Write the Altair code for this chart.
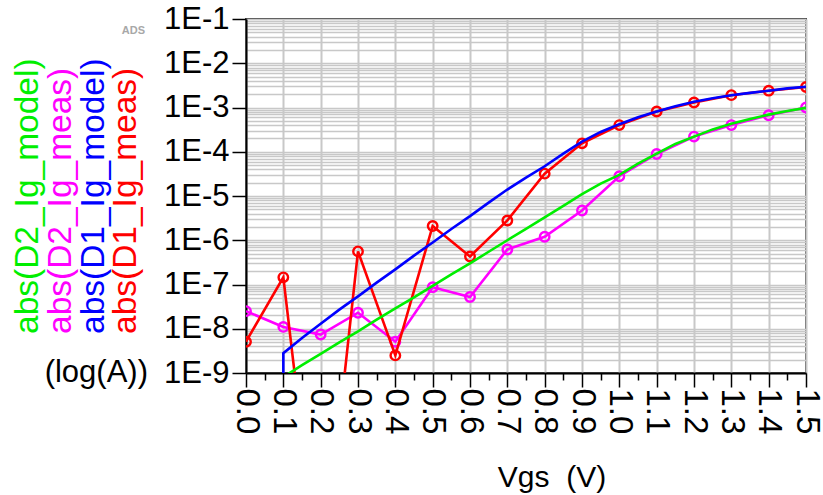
import altair as alt
import pandas as pd

# ---------------- data ----------------
vgs_meas = [0.0, 0.1, 0.2, 0.3, 0.4, 0.5, 0.6, 0.7, 0.8, 0.9, 1.0, 1.1, 1.2, 1.3, 1.4, 1.5]
d1_ig_meas = [5.1e-9, 1.45e-7, 1.0e-14, 5.6e-7, 2.5e-9, 2.1e-6, 4.3e-7, 2.8e-6,
              3.2e-5, 1.55e-4, 4.0e-4, 8.1e-4, 1.3e-3, 1.9e-3, 2.4e-3, 2.9e-3]
d2_ig_meas = [2.5e-8, 1.1e-8, 7.4e-9, 2.3e-8, 5.1e-9, 8.7e-8, 5.2e-8, 6.2e-7,
              1.2e-6, 4.7e-6, 2.8e-5, 8.9e-5, 2.2e-4, 4.0e-4, 6.7e-4, 1.0e-3]

vgs_d1_model = [0.1, 0.1, 0.15, 0.2, 0.25, 0.3, 0.35, 0.4, 0.45, 0.5, 0.55, 0.6, 0.65, 0.7,
                0.75, 0.8, 0.85, 0.9, 0.95, 1.0, 1.05, 1.1, 1.15, 1.2, 1.25, 1.3, 1.35,
                1.4, 1.45, 1.5]
d1_ig_model = [1.0e-12, 2.8e-9, 6.2e-9, 1.3e-8, 2.7e-8, 5.4e-8, 1.1e-7, 2.2e-7, 4.5e-7,
               8.9e-7, 1.8e-6, 3.5e-6, 7.1e-6, 1.4e-5, 2.6e-5, 4.7e-5, 9.1e-5, 1.7e-4,
               2.8e-4, 4.2e-4, 6.0e-4, 8.1e-4, 1.07e-3, 1.35e-3, 1.62e-3, 1.9e-3,
               2.14e-3, 2.4e-3, 2.7e-3, 2.95e-3]

vgs_d2_model = [0.1, 0.15, 0.2, 0.25, 0.3, 0.35, 0.4, 0.45, 0.5, 0.55, 0.6, 0.65, 0.7,
                0.75, 0.8, 0.85, 0.9, 0.95, 1.0, 1.05, 1.1, 1.15, 1.2, 1.25, 1.3, 1.35,
                1.4, 1.45, 1.5]
d2_ig_model = [8.1e-10, 1.5e-9, 2.7e-9, 4.9e-9, 8.7e-9, 1.6e-8, 2.9e-8, 5.1e-8, 9.3e-8,
               1.7e-7, 3.0e-7, 5.5e-7, 1.0e-6, 1.8e-6, 3.3e-6, 6.0e-6, 1.1e-5, 1.9e-5,
               3.0e-5, 5.4e-5, 9.1e-5, 1.5e-4, 2.2e-4, 3.2e-4, 4.3e-4, 5.5e-4, 6.9e-4,
               8.3e-4, 9.8e-4]

x_tick_values = [0.0, 0.05, 0.1, 0.15, 0.2, 0.25, 0.3, 0.35, 0.4, 0.45, 0.5, 0.55, 0.6,
                 0.65, 0.7, 0.75, 0.8, 0.85, 0.9, 0.95, 1.0, 1.05, 1.1, 1.15, 1.2, 1.25,
                 1.3, 1.35, 1.4, 1.45, 1.5]
decades = [1e-9, 1e-8, 1e-7, 1e-6, 1e-5, 1e-4, 1e-3, 1e-2]
mantissas = [1, 2, 3, 4, 5, 6, 7, 8, 9]
y_tick_values = [m * d for d in decades for m in mantissas] + [1e-1]

# ---------------- tables ----------------
d1_meas_df = pd.DataFrame({"vgs": vgs_meas, "value": d1_ig_meas})
d2_meas_df = pd.DataFrame({"vgs": vgs_meas, "value": d2_ig_meas})
d1_model_df = pd.DataFrame({"vgs": vgs_d1_model, "value": d1_ig_model,
                            "idx": list(range(len(vgs_d1_model)))})
d2_model_df = pd.DataFrame({"vgs": vgs_d2_model, "value": d2_ig_model,
                            "idx": list(range(len(vgs_d2_model)))})

FONT = "Liberation Sans"
MAJ_X = "abs(datum.value*10 - round(datum.value*10)) < 0.001"
LOG10 = "(log(datum.value)/LN10)"
MAJ_Y = f"abs({LOG10} - round({LOG10})) < 0.000001"

x_axis = alt.Axis(
    values=x_tick_values, grid=True, gridColor="#c8c8c8", gridWidth=2,
    gridOpacity={"condition": {"test": MAJ_X, "value": 1}, "value": 0},
    tickSize={"condition": {"test": MAJ_X, "value": 14}, "value": 7},
    tickColor="black", tickWidth=1.5, domainColor="black", domainWidth=2,
    labelAngle=90, labelAlign="left", labelBaseline="middle",
    labelExpr=f"{MAJ_X} ? format(datum.value, '.1f') : ''",
    labelFont=FONT, labelFontSize=33, labelColor="black", labelPadding=1,
    labelOverlap=False, labelFlush=False, title=None,
)
y_axis = alt.Axis(
    values=y_tick_values, grid=True, gridColor="#c8c8c8", gridWidth=1.5,
    tickSize=14, tickColor="black", tickWidth=1.5,
    tickOpacity={"condition": {"test": MAJ_Y, "value": 1}, "value": 0},
    domainColor="black", domainWidth=2,
    labelExpr=f"{MAJ_Y} ? '1E' + round({LOG10}) : ''",
    labelFont=FONT, labelFontSize=31, labelColor="black", labelPadding=3,
    labelOverlap=False, labelFlush=False, title=None,
)

X = alt.X("vgs:Q", scale=alt.Scale(domain=[0, 1.5], nice=False, zero=False), axis=x_axis)
Y = alt.Y("value:Q", scale=alt.Scale(type="log", domain=[1e-9, 1e-1], nice=False), axis=y_axis)

RED, BLUE, MAG, GREEN = "#ff0000", "#0000ff", "#ff00ff", "#00ee00"
LW = 2.6


def line(df, color):
    return alt.Chart(df).mark_line(color=color, strokeWidth=LW, clip=True).encode(x=X, y=Y)


def pts(df, color):
    return alt.Chart(df).mark_point(shape="circle", filled=False, color=color, size=90,
                                    strokeWidth=2.4, opacity=1, clip=True).encode(x=X, y=Y)


def model(df, color):
    return alt.Chart(df).mark_line(color=color, strokeWidth=LW, clip=True).encode(
        x=X, y=Y, order="idx:Q")


def label(text, x, y, color="black", size=33.5, angle=0, align="left", baseline="middle",
          weight="normal", font=FONT):
    return alt.Chart(pd.DataFrame({"t": [text]})).mark_text(
        text=text, color=color, fontSize=size, angle=angle, align=align,
        baseline=baseline, font=font, fontWeight=weight,
    ).encode(x=alt.value(x), y=alt.value(y))


layers = [
    line(d2_meas_df, MAG), pts(d2_meas_df, MAG),
    line(d1_meas_df, RED), pts(d1_meas_df, RED),
    model(d2_model_df, GREEN),
    model(d1_model_df, BLUE),
    label("abs(D2_Ig_model)", -218, 315, GREEN, angle=270),
    label("abs(D2_Ig_meas)", -185, 315, MAG, angle=270),
    label("abs(D1_Ig_model)", -152, 315, BLUE, angle=270),
    label("abs(D1_Ig_meas)", -120, 315, RED, angle=270),
    label("(log(A))", -98, 354, "black", size=31, align="right"),
    label("ADS", -101, 12, "#a8a8a8", size=11, align="right", weight="bold"),
    label("Vgs\u00a0\u00a0(V)", 306, 468, "black", size=30, align="center",
          baseline="alphabetic"),
]

chart = alt.layer(*layers).properties(
    width=560, height=354,
    autosize=alt.AutoSizeParams(type="none"),
    padding={"left": 246, "top": 19, "right": 17, "bottom": 122},
    background="white",
).configure_view(stroke="#404040", strokeWidth=2)

chart.save("out.html", embed_options={"renderer": "svg", "actions": False})
